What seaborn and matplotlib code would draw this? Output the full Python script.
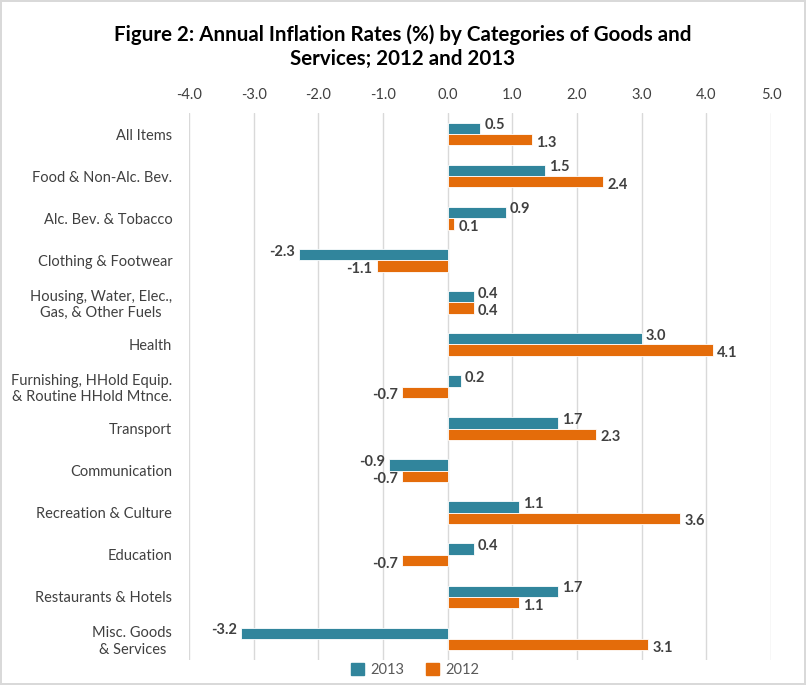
import pandas as pd
import matplotlib.pyplot as plt
import seaborn as sns
from matplotlib.patches import Patch

# Data
categories = ['All Items', 'Food & Non-Alc. Bev.', 'Alc. Bev. & Tobacco',
              'Clothing & Footwear', 'Housing, Water, Elec.,\nGas, & Other Fuels',
              'Health', 'Furnishing, HHold Equip.\n& Routine HHold Mtnce.',
              'Transport', 'Communication', 'Recreation & Culture',
              'Education', 'Restaurants & Hotels', 'Misc. Goods\n& Services']
rates_2013 = [0.5, 1.5, 0.9, -2.3, 0.4, 3.0, 0.2, 1.7, -0.9, 1.1, 0.4, 1.7, -3.2]
rates_2012 = [1.3, 2.4, 0.1, -1.1, 0.4, 4.1, -0.7, 2.3, -0.7, 3.6, -0.7, 1.1, 3.1]
years = ['2013', '2012']
colors = ['#31859C', '#E46C0A']

df = pd.DataFrame({
    'Category': categories * 2,
    'Year': ['2013'] * len(categories) + ['2012'] * len(categories),
    'Rate': rates_2013 + rates_2012,
})

sns.set_style('white')
plt.rcParams['font.family'] = ['Lato', 'DejaVu Sans']

fig = plt.figure(figsize=(8.06, 6.85), dpi=100)
fig.patch.set_edgecolor('#D9D9D9')
fig.patch.set_linewidth(1.5)
ax = fig.add_axes([0.2345, 0.0365, 0.7221, 0.7985])

sns.barplot(data=df, x='Rate', y='Category', hue='Year', hue_order=years,
            palette=colors, orient='h', width=0.54, saturation=1,
            edgecolor='white', linewidth=0.6, legend=False, ax=ax)

# value labels at the end of each bar, nudged apart vertically
for i, cont in enumerate(ax.containers):
    dy = 2.2 if i == 0 else -2.2
    for bar, v in zip(cont, cont.datavalues):
        y = bar.get_y() + bar.get_height() / 2
        ax.annotate('%.1f' % v, (v, y), xytext=(3 if v >= 0 else -3, dy),
                    textcoords='offset points', va='center',
                    ha='left' if v >= 0 else 'right',
                    fontsize=10.5, fontweight='bold', color='#404040')

ax.set_xlim(-4, 5)
ax.set_ylim(12.5, -0.5)
ax.set_xticks(range(-4, 6))
ax.set_xticklabels(['%.1f' % t for t in range(-4, 6)])
ax.xaxis.tick_top()
ax.tick_params(axis='x', length=0, pad=8, labelsize=10.5, labelcolor='#404040')
ax.tick_params(axis='y', length=0, pad=12, labelsize=10.5, labelcolor='#404040')
for lab in ax.get_yticklabels():
    lab.set_multialignment('center')
ax.set_xlabel('')
ax.set_ylabel('')
ax.grid(axis='x', color='#D9D9D9', linewidth=1)
ax.set_axisbelow(True)
for s in ax.spines.values():
    s.set_visible(False)

fig.suptitle('Figure 2: Annual Inflation Rates (%) by Categories of Goods and\nServices; 2012 and 2013',
             x=0.5, y=0.965, fontsize=14.8, fontweight='bold', color='#000000',
             linespacing=1.25)

handles = [Patch(color=c, label=y) for c, y in zip(colors, years)]
fig.legend(handles=handles, loc='lower center', bbox_to_anchor=(0.515, -0.008),
           ncol=2, frameon=False, fontsize=10.5, handlelength=0.9,
           handleheight=0.9, handletextpad=0.4, columnspacing=1.5,
           labelcolor='#595959')

fig.savefig('out.png', dpi=100)
